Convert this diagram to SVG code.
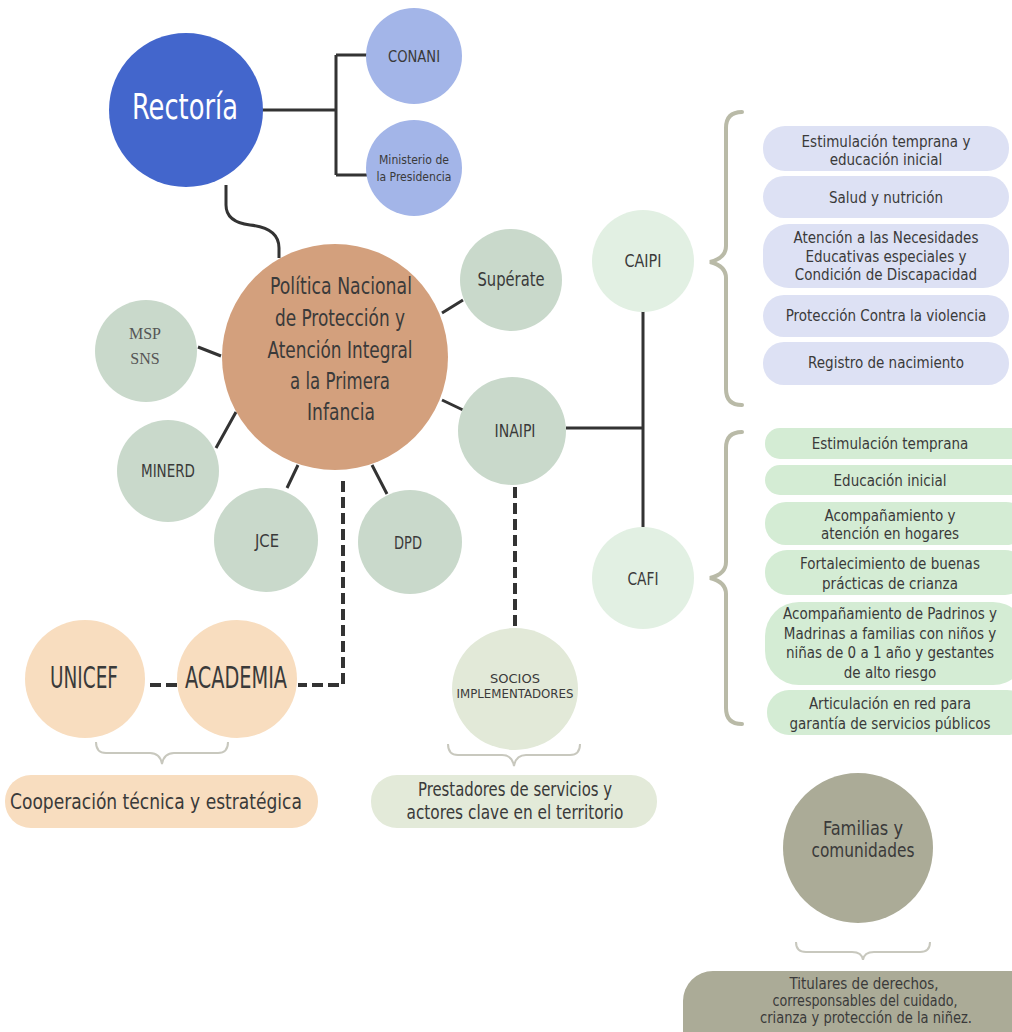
<svg xmlns="http://www.w3.org/2000/svg" width="1012" height="1032" viewBox="0 0 1012 1032">
<style>
text{font-family:"DejaVu Sans Condensed","DejaVu Sans","Liberation Sans",sans-serif;font-stretch:condensed;fill:#3a3a3a;text-anchor:middle}
.sat{fill:#C9D9CB}
.blue{fill:#A3B5E8}
.mint{fill:#E2F0E3}
.peach{fill:#F8DDBF}
.pl{fill:#DDE1F4}
.pg{fill:#D4ECD4}
.ln{stroke:#333;stroke-width:3;fill:none}
.dash{stroke:#333;stroke-width:4;fill:none;stroke-dasharray:11,5}
.brace{stroke:#B9BAA7;stroke-width:4;fill:none;stroke-linecap:round}
.hb{stroke:#C8C8BE;stroke-width:2;fill:none}
.t16{font-size:15px}
</style>
<rect width="1012" height="1032" fill="#fff"/>
<g id="connectors">
<path class="ln" d="M262,110 H336 M336,55 V175 M336,55 H367 M336,175 H367"/>
<path class="ln" d="M226,185 V205 Q226,222 250,225 Q279,228 279,248 V258"/>
<path class="ln" d="M442,313 L463,300 M198,347 L221,356 M236,412 L216,448 M298,465 L287,488 M372,465 L387,494 M442,400 L463,410"/>
<path class="ln" d="M566,428 H643 M643,311 V527"/>
<path class="dash" d="M343,481 V685 H298 M177,685 H146"/>
<path class="dash" d="M515,487 V628"/>
<path class="brace" d="M742,112 Q726,112 726,128 L726,246 Q726,258 710,262 Q726,266 726,278 L726,389 Q726,405 742,405"/>
<path class="brace" d="M742,432 Q726,432 726,448 L726,562 Q726,574 710,578 Q726,582 726,594 L726,708 Q726,724 742,724"/>
<path class="hb" d="M96,742 Q96,753 106,753 L150,753 Q160,753 162,764 Q164,753 174,753 L218,753 Q228,753 228,742"/>
<path class="hb" d="M448,744 Q448,755 458,755 L502,755 Q512,755 514,766 Q516,755 526,755 L570,755 Q580,755 580,744"/>
<path class="hb" d="M796,942 Q796,952 806,952 L852,952 Q862,952 863,960 Q864,952 874,952 L920,952 Q930,952 930,942"/>
</g>
<g id="rectoria"><circle cx="186" cy="110" r="77" fill="#4366CC"/><text x="185" y="119" font-size="36" textLength="106" lengthAdjust="spacingAndGlyphs" style="fill:#fff">Rectoría</text></g>
<g id="conani"><circle class="blue" cx="414" cy="56" r="48"/><text x="414" y="62" font-size="15" textLength="52" lengthAdjust="spacingAndGlyphs">CONANI</text></g>
<g id="ministerio"><circle class="blue" cx="414" cy="168" r="48"/><text x="414" y="164" font-size="13" textLength="70" lengthAdjust="spacingAndGlyphs">Ministerio de</text><text x="414" y="181" font-size="13" textLength="75" lengthAdjust="spacingAndGlyphs">la Presidencia</text></g>
<g id="politica"><circle cx="335" cy="357" r="113" fill="#D3A07D"/>
<text x="341" y="294" font-size="23" textLength="142" lengthAdjust="spacingAndGlyphs">Política Nacional</text>
<text x="340" y="326" font-size="23" textLength="130" lengthAdjust="spacingAndGlyphs">de Protección y</text>
<text x="340" y="358" font-size="23" textLength="145" lengthAdjust="spacingAndGlyphs">Atención Integral</text>
<text x="340" y="389" font-size="23" textLength="100" lengthAdjust="spacingAndGlyphs">a la Primera</text>
<text x="341" y="420" font-size="23" textLength="68" lengthAdjust="spacingAndGlyphs">Infancia</text></g>
<g id="superate"><circle class="sat" cx="511" cy="280" r="51"/><text x="511" y="286" font-size="19" textLength="67" lengthAdjust="spacingAndGlyphs">Supérate</text></g>
<g id="msp"><circle class="sat" cx="146" cy="351" r="51"/><text x="145" y="339" font-size="16" style="font-family:'Liberation Serif',serif;fill:#555">MSP</text><text x="145" y="364" font-size="16" style="font-family:'Liberation Serif',serif;fill:#555">SNS</text></g>
<g id="minerd"><circle class="sat" cx="168" cy="471" r="51"/><text x="168" y="477" font-size="18" textLength="54" lengthAdjust="spacingAndGlyphs">MINERD</text></g>
<g id="jce"><circle class="sat" cx="266" cy="540" r="52"/><text x="267" y="547" font-size="18" textLength="24" lengthAdjust="spacingAndGlyphs">JCE</text></g>
<g id="dpd"><circle class="sat" cx="410" cy="542" r="52"/><text x="408" y="549" font-size="18" textLength="28" lengthAdjust="spacingAndGlyphs">DPD</text></g>
<g id="inaipi"><circle class="sat" cx="512" cy="431" r="54"/><text x="515" y="437" font-size="18" textLength="41" lengthAdjust="spacingAndGlyphs">INAIPI</text></g>
<g id="caipi"><circle class="mint" cx="643" cy="261" r="51"/><text x="643" y="267" font-size="18" textLength="37" lengthAdjust="spacingAndGlyphs">CAIPI</text></g>
<g id="cafi"><circle class="mint" cx="643" cy="578" r="51"/><text x="643" y="585" font-size="18" textLength="31" lengthAdjust="spacingAndGlyphs">CAFI</text></g>
<g id="caipi-items">
<rect class="pl" x="763" y="126" width="246" height="45" rx="22"/><text class="t16" x="886" y="147">Estimulación temprana y</text><text class="t16" x="886" y="165">educación inicial</text>
<rect class="pl" x="763" y="176" width="246" height="42" rx="21"/><text class="t16" x="886" y="203">Salud y nutrición</text>
<rect class="pl" x="763" y="224" width="246" height="64" rx="26"/><text class="t16" x="886" y="243">Atención a las Necesidades</text><text class="t16" x="886" y="262">Educativas especiales y</text><text class="t16" x="886" y="280">Condición de Discapacidad</text>
<rect class="pl" x="763" y="295" width="246" height="42" rx="21"/><text class="t16" x="886" y="321">Protección Contra la violencia</text>
<rect class="pl" x="763" y="342" width="246" height="43" rx="21"/><text class="t16" x="886" y="368">Registro de nacimiento</text>
</g>
<g id="cafi-items">
<rect class="pg" x="765" y="428" width="262" height="31" rx="15"/><text class="t16" x="890" y="449">Estimulación temprana</text>
<rect class="pg" x="765" y="465" width="262" height="30" rx="15"/><text class="t16" x="890" y="486">Educación inicial</text>
<rect class="pg" x="765" y="502" width="262" height="43" rx="21"/><text class="t16" x="890" y="521">Acompañamiento y</text><text class="t16" x="890" y="539">atención en hogares</text>
<rect class="pg" x="765" y="550" width="262" height="45" rx="22"/><text class="t16" x="890" y="569">Fortalecimiento de buenas</text><text class="t16" x="890" y="589">prácticas de crianza</text>
<rect class="pg" x="765" y="602" width="262" height="83" rx="34"/><text class="t16" x="890" y="619">Acompañamiento de Padrinos y</text><text class="t16" x="890" y="639">Madrinas a familias con niños y</text><text class="t16" x="890" y="658">niñas de 0 a 1 año y gestantes</text><text class="t16" x="890" y="678">de alto riesgo</text>
<rect class="pg" x="767" y="690" width="262" height="45" rx="22"/><text class="t16" x="890" y="709">Articulación en red para</text><text class="t16" x="890" y="729">garantía de servicios públicos</text>
</g>
<g id="unicef"><ellipse class="peach" cx="85" cy="679" rx="60" ry="59"/><text x="84" y="688" font-size="30" textLength="68" lengthAdjust="spacingAndGlyphs">UNICEF</text></g>
<g id="academia"><ellipse class="peach" cx="237" cy="679" rx="60" ry="59"/><text x="236" y="688" font-size="30" textLength="102" lengthAdjust="spacingAndGlyphs">ACADEMIA</text></g>
<g id="cooperacion"><rect class="peach" x="5" y="775" width="313" height="53" rx="26"/><text x="156" y="809" font-size="21" textLength="292" lengthAdjust="spacingAndGlyphs">Cooperación técnica y estratégica</text></g>
<g id="socios"><ellipse cx="515" cy="689" rx="63" ry="61" fill="#E2E9D8"/><text x="515" y="683" font-size="13" textLength="50" lengthAdjust="spacingAndGlyphs">SOCIOS</text><text x="515" y="698" font-size="13" textLength="117" lengthAdjust="spacingAndGlyphs">IMPLEMENTADORES</text></g>
<g id="prestadores"><rect x="371" y="775" width="286" height="53" rx="26" fill="#E3EAD9"/><text x="515" y="796" font-size="20" textLength="194" lengthAdjust="spacingAndGlyphs">Prestadores de servicios y</text><text x="515" y="819" font-size="20" textLength="217" lengthAdjust="spacingAndGlyphs">actores clave en el territorio</text></g>
<g id="familias"><circle cx="858" cy="848" r="75" fill="#ABAB97"/><text x="863" y="835" font-size="20" textLength="80" lengthAdjust="spacingAndGlyphs">Familias y</text><text x="863" y="857" font-size="20" textLength="103" lengthAdjust="spacingAndGlyphs">comunidades</text></g>
<g id="titulares"><rect x="683" y="971" width="360" height="90" rx="30" fill="#ABAB97"/><text x="864" y="989" font-size="16" textLength="149" lengthAdjust="spacingAndGlyphs">Titulares de derechos,</text><text x="865" y="1006" font-size="16" textLength="185" lengthAdjust="spacingAndGlyphs">corresponsables del cuidado,</text><text x="866" y="1023" font-size="16" textLength="212" lengthAdjust="spacingAndGlyphs">crianza y protección de la niñez.</text></g>
</svg>
